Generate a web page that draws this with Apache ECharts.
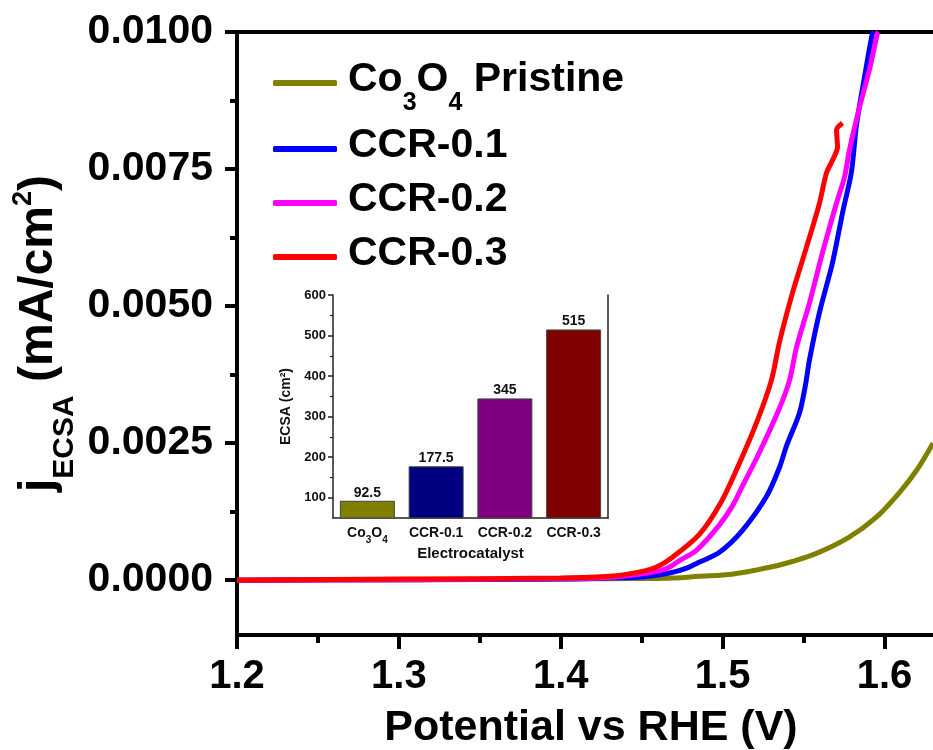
<!DOCTYPE html>
<html><head><meta charset="utf-8">
<script src="https://cdn.jsdelivr.net/npm/echarts@6/dist/echarts.min.js"></script>
<style>html,body{margin:0;padding:0;background:#fff}#c{width:933px;height:750px}</style>
</head><body><div id="c"></div>
<script>
const FONT = '"Liberation Sans", Arial, Helvetica, sans-serif';

// ---- main LSV data (potential V vs RHE, j_ECSA mA/cm2) ----
const seriesNames = ['Co3O4 Pristine', 'CCR-0.1', 'CCR-0.2', 'CCR-0.3'];
const seriesColors = ['#808000', '#0000ff', '#ff00ff', '#ff0000'];

const potentialCo3O4 = [1.20, 1.30, 1.40, 1.45, 1.47, 1.485, 1.506, 1.52, 1.537, 1.558, 1.578, 1.595, 1.609, 1.62, 1.63];
const jCo3O4 = [0, 0.00001, 0.00002, 0.00003, 0.00004, 0.00007, 0.00011, 0.00018, 0.00029, 0.00049, 0.00078, 0.00115, 0.00159, 0.00201, 0.0025];

const potentialCCR01 = [1.20, 1.30, 1.40, 1.43, 1.4506, 1.4673, 1.4778, 1.4858, 1.4981, 1.5123, 1.5272, 1.5352, 1.5395, 1.5475, 1.5512, 1.5537, 1.5599, 1.5679, 1.5741, 1.5796, 1.5827, 1.5877, 1.5926, 1.5935];
const jCCR01 = [0, 0.00001, 0.00002, 0.00004, 0.00006, 0.00013, 0.00022, 0.00033, 0.00051, 0.00091, 0.00153, 0.00206, 0.00245, 0.00305, 0.00356, 0.00402, 0.00489, 0.00579, 0.0067, 0.00745, 0.0083, 0.00918, 0.00998, 0.0100];

const potentialCCR02 = [1.20, 1.30, 1.40, 1.4241, 1.4407, 1.4611, 1.4673, 1.4735, 1.484, 1.4981, 1.5062, 1.5123, 1.5216, 1.5346, 1.5414, 1.5457, 1.5537, 1.5617, 1.5704, 1.5753, 1.5784, 1.5846, 1.5907, 1.5957, 1.5962];
const jCCR02 = [0, 0.00001, 0.00003, 0.00004, 0.00008, 0.00017, 0.00024, 0.00036, 0.00055, 0.00101, 0.00136, 0.00172, 0.00226, 0.0031, 0.00365, 0.00425, 0.00506, 0.00597, 0.00688, 0.00735, 0.00785, 0.00863, 0.00931, 0.00998, 0.0100];

const potentialCCR03 = [1.20, 1.30, 1.40, 1.4302, 1.4506, 1.4593, 1.4691, 1.4858, 1.4994, 1.5105, 1.5216, 1.5302, 1.5352, 1.5432, 1.5519, 1.5599, 1.5642, 1.5679, 1.571, 1.5704, 1.5741];
const jCCR03 = [0, 0.00002, 0.00004, 0.00007, 0.00016, 0.00024, 0.00042, 0.00084, 0.00144, 0.00214, 0.00292, 0.00365, 0.00435, 0.00524, 0.00608, 0.00688, 0.00743, 0.00766, 0.0079, 0.00821, 0.00834];

const xTicks = [1.2, 1.3, 1.4, 1.5, 1.6];
const xMinorTicks = [1.25, 1.35, 1.45, 1.55];
const yTicks = [0, 0.0025, 0.005, 0.0075, 0.01];
const yMinorTicks = [0.00125, 0.00375, 0.00625, 0.00875];

// ---- inset ECSA bar data ----
const catalysts = ['Co3O4', 'CCR-0.1', 'CCR-0.2', 'CCR-0.3'];
const ecsa = [92.5, 177.5, 345, 515];
const barColors = ['#808000', '#000080', '#800080', '#800000'];
const insetYTicks = [100, 200, 300, 400, 500, 600];
const insetYMinorTicks = [150, 250, 350, 450, 550];

// subscript digits that follow letters (chemical formulae)
function chem(s, a, b) {
  let out = '', last = 0;
  s.replace(/([A-Za-z])(\d+)/g, (m, l, d, idx) => {
    out += '{' + a + '|' + s.slice(last, idx + 1) + '}{' + b + '|' + d + '}';
    last = idx + m.length;
    return m;
  });
  if (last < s.length) out += '{' + a + '|' + s.slice(last) + '}';
  return out;
}
const zip = (xs, ys) => xs.map((x, i) => [x, ys[i]]);
const curves = [zip(potentialCo3O4, jCo3O4), zip(potentialCCR01, jCCR01), zip(potentialCCR02, jCCR02), zip(potentialCCR03, jCCR03)];

const AX = { color: '#000', width: 4 };
const legendTop = [43, 125, 179, 233];

const chart = echarts.init(document.getElementById('c'), null, { renderer: 'canvas' });
chart.setOption({
  animation: false,
  backgroundColor: '#fff',
  textStyle: { fontFamily: FONT },
  grid: [
    { left: 237, right: 0, top: 32, bottom: 115, containLabel: false, outerBoundsMode: 'none' },
    { left: 333, top: 295, width: 275, height: 223, containLabel: false, outerBoundsMode: 'none' }
  ],
  legend: seriesNames.map((n, i) => ({
    data: [n], left: 273, top: legendTop[i], padding: 0,
    icon: 'roundRect', itemWidth: 64, itemHeight: 6, selectedMode: false,
    formatter: name => chem(name, 'a', 'b'),
    textStyle: {
      padding: [0, 0, 7, 6],
      rich: {
        a: { fontSize: 41, fontWeight: 'bold', fontFamily: FONT, color: '#000', lineHeight: 46 },
        b: { fontSize: 25, fontWeight: 'bold', fontFamily: FONT, color: '#000', lineHeight: 46, padding: [48, 0, 0, 0] }
      }
    }
  })),
  xAxis: [
    {
      gridIndex: 0, type: 'value', min: 1.2, max: 1.63, position: 'bottom',
      axisLine: { onZero: false, lineStyle: AX },
      axisTick: { customValues: xTicks, length: 14, lineStyle: { width: 4, color: '#000' } },
      axisLabel: { customValues: xTicks, formatter: v => v.toFixed(1), margin: 21, fontSize: 40, fontWeight: 'bold', color: '#000', fontFamily: FONT, lineHeight: 42 },
      splitLine: { show: false },
      name: 'Potential vs RHE (V)', nameLocation: 'middle', nameGap: 70,
      nameTextStyle: { fontSize: 43, fontWeight: 'bold', color: '#000', fontFamily: FONT, lineHeight: 46, padding: [0, 0, 0, 12] }
    },
    {
      gridIndex: 0, type: 'value', min: 1.2, max: 1.63, position: 'bottom',
      axisLine: { show: false, onZero: false },
      axisTick: { customValues: xMinorTicks, length: 8, lineStyle: { width: 4, color: '#000' } },
      axisLabel: { show: false }, splitLine: { show: false }
    },
    {
      gridIndex: 0, type: 'value', min: 1.2, max: 1.63, position: 'top',
      axisLine: { onZero: false, lineStyle: AX }, axisTick: { show: false }, axisLabel: { show: false }, splitLine: { show: false }
    },
    {
      gridIndex: 1, type: 'category', data: catalysts,
      axisLine: { onZero: false, lineStyle: { color: '#222', width: 1.5 } },
      axisTick: { alignWithLabel: true, length: 4, lineStyle: { color: '#222', width: 1.5 } },
      axisLabel: {
        interval: 0, margin: 6, color: '#111', formatter: v => chem(v, 'a', 'b'),
        rich: {
          a: { fontSize: 14, fontWeight: 'bold', fontFamily: FONT, color: '#111', lineHeight: 18 },
          b: { fontSize: 10, fontWeight: 'bold', fontFamily: FONT, color: '#111', lineHeight: 18, padding: [14, 0, 0, 0] }
        }
      },
      name: 'Electrocatalyst', nameLocation: 'middle', nameGap: 27,
      nameTextStyle: { fontSize: 15, fontWeight: 'bold', color: '#111', fontFamily: FONT }
    }
  ],
  yAxis: [
    {
      gridIndex: 0, type: 'value', min: -0.001, max: 0.01, position: 'left',
      axisLine: { show: true, onZero: false, lineStyle: AX },
      axisTick: { show: true, customValues: yTicks, length: 12, lineStyle: { width: 4, color: '#000' } },
      axisLabel: { customValues: yTicks, formatter: v => v.toFixed(4), margin: 24, fontSize: 41, fontWeight: 'bold', color: '#000', fontFamily: FONT },
      splitLine: { show: false },
      name: '{m|j}{s|ECSA}{m| (mA/cm}{p|2}{m|)}', nameLocation: 'middle', nameRotate: 90, nameGap: 174,
      nameMoveOverlap: false,
      nameTextStyle: {
        rich: {
          m: { fontSize: 48, fontWeight: 'bold', fontFamily: FONT, color: '#000', lineHeight: 48 },
          s: { fontSize: 30, fontWeight: 'bold', fontFamily: FONT, color: '#000', lineHeight: 48, padding: [52, 0, 0, 0] },
          p: { fontSize: 27, fontWeight: 'bold', fontFamily: FONT, color: '#000', lineHeight: 48, padding: [0, 0, 30, 0] }
        }
      }
    },
    {
      gridIndex: 0, type: 'value', min: -0.001, max: 0.01, position: 'left',
      axisLine: { show: false, onZero: false },
      axisTick: { show: true, customValues: yMinorTicks, length: 7, lineStyle: { width: 4, color: '#000' } },
      axisLabel: { show: false }, splitLine: { show: false }
    },
    {
      gridIndex: 1, type: 'value', min: 50, max: 600, position: 'left',
      axisLine: { show: true, onZero: false, lineStyle: { color: '#222', width: 1.5 } },
      axisTick: { show: true, customValues: insetYTicks, length: 5, lineStyle: { color: '#222', width: 1.5 } },
      axisLabel: { customValues: insetYTicks, margin: 7, fontSize: 13, fontWeight: 'bold', color: '#111', fontFamily: FONT },
      splitLine: { show: false },
      name: 'ECSA (cm²)', nameLocation: 'middle', nameRotate: 90, nameGap: 40,
      nameTextStyle: { fontSize: 14, fontWeight: 'bold', color: '#111', fontFamily: FONT }
    },
    {
      gridIndex: 1, type: 'value', min: 50, max: 600, position: 'left',
      axisLine: { show: false, onZero: false },
      axisTick: { show: true, customValues: insetYMinorTicks, length: 3, lineStyle: { color: '#222', width: 1.2 } },
      axisLabel: { show: false }, splitLine: { show: false }
    },
    {
      gridIndex: 1, type: 'value', min: 50, max: 600, position: 'right',
      axisLine: { show: true, onZero: false, lineStyle: { color: '#222', width: 1.5 } },
      axisTick: { show: false }, axisLabel: { show: false }, splitLine: { show: false }
    }
  ],
  series: [
    ...curves.map((d, i) => ({
      name: seriesNames[i], type: 'line', xAxisIndex: 0, yAxisIndex: 0,
      data: d, showSymbol: false, smooth: 0.3, clip: true,
      lineStyle: { color: seriesColors[i], width: 5 }, itemStyle: { color: seriesColors[i] },
      z: 3 + i
    })),
    {
      name: 'ECSA', type: 'bar', xAxisIndex: 3, yAxisIndex: 2, barWidth: '80%',
      data: ecsa.map((v, i) => ({ value: v, itemStyle: { color: barColors[i] } })),
      itemStyle: { borderColor: '#444', borderWidth: 1 },
      label: { show: true, position: 'top', distance: 1, fontSize: 14, fontWeight: 'bold', color: '#111', fontFamily: FONT },
      z: 10
    }
  ]
});
</script></body></html>
